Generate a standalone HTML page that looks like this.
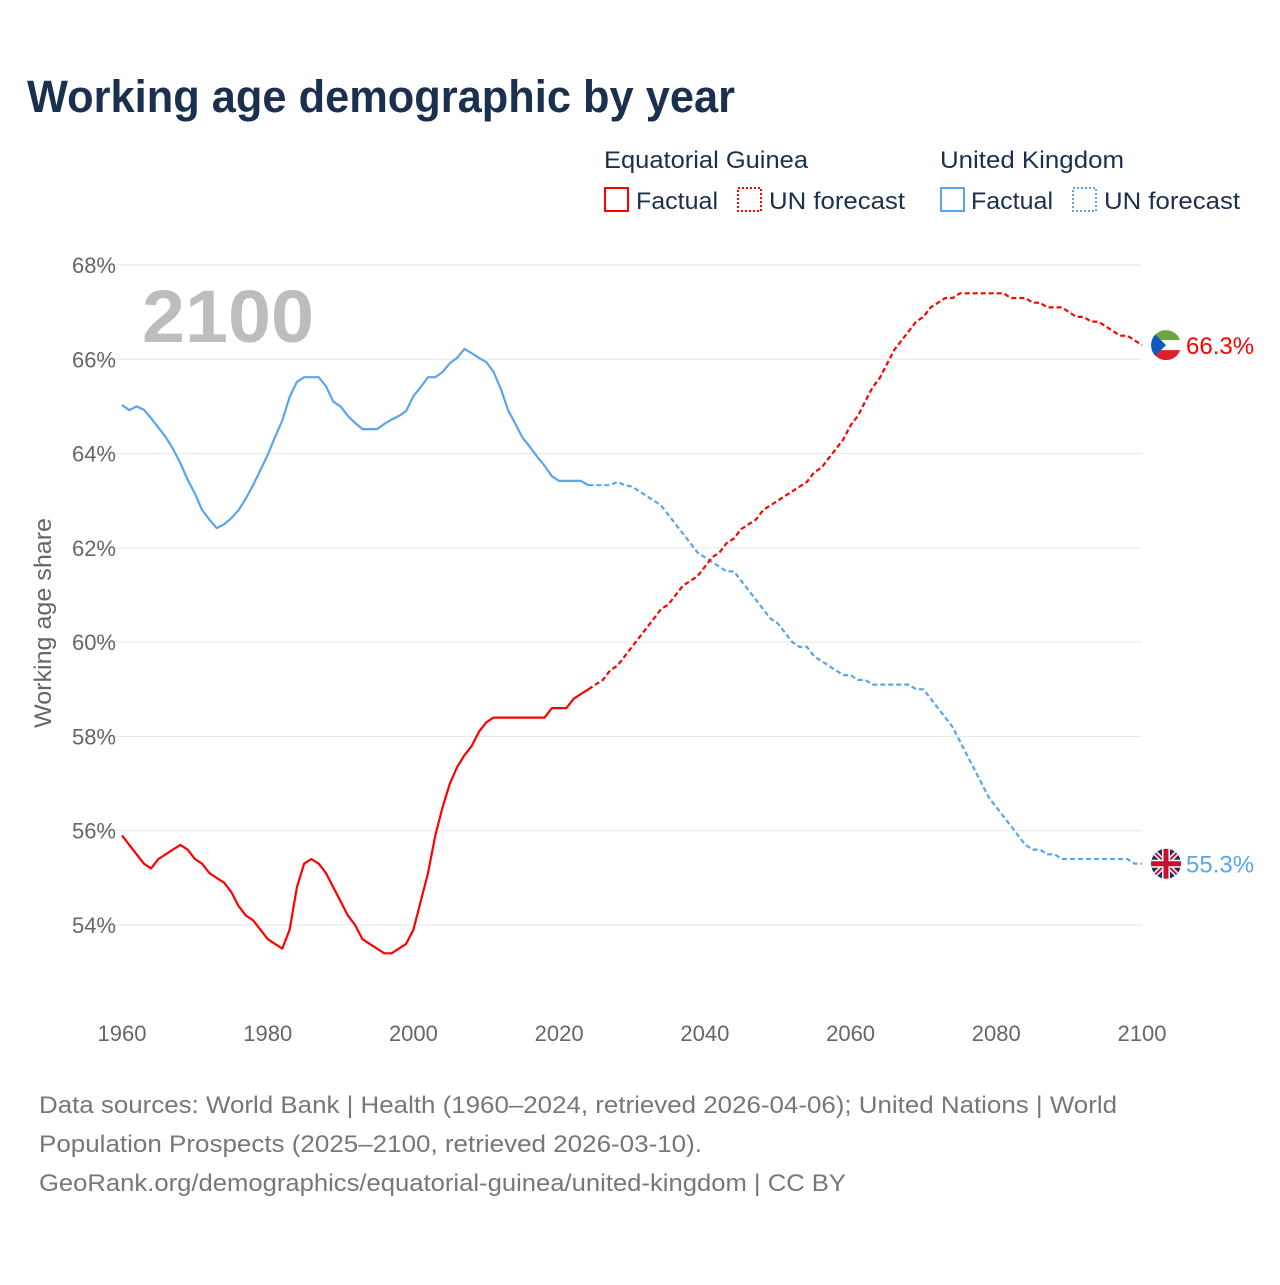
<!DOCTYPE html>
<html><head><meta charset="utf-8"><style>
body{margin:0;background:#fff;font-family:"Liberation Sans",sans-serif;}
svg text{font-family:"Liberation Sans",sans-serif;}
</style></head><body>
<svg id="chart" width="1280" height="1280" viewBox="0 0 1280 1280">
<rect width="1280" height="1280" fill="#fff"/>
<text x="27" y="112" font-size="45" font-weight="bold" fill="#1b2f4f" textLength="708" lengthAdjust="spacingAndGlyphs">Working age demographic by year</text>
<g>
<text x="604" y="168" font-size="24" fill="#1b2f4f" textLength="204" lengthAdjust="spacingAndGlyphs">Equatorial Guinea</text>
<text x="940" y="168" font-size="24" fill="#1b2f4f" textLength="184" lengthAdjust="spacingAndGlyphs">United Kingdom</text>
<g><rect x="605" y="188" width="23" height="23" fill="none" stroke="#f00" stroke-width="2"/><text x="636" y="209" font-size="24" fill="#1b2f4f" textLength="82" lengthAdjust="spacingAndGlyphs">Factual</text></g>
<g><rect x="738" y="188" width="23" height="23" fill="none" stroke="#f00" stroke-width="2" stroke-dasharray="2,2"/><text x="769" y="209" font-size="24" fill="#1b2f4f" textLength="136" lengthAdjust="spacingAndGlyphs">UN forecast</text></g>
<g><rect x="941" y="188" width="23" height="23" fill="none" stroke="#5aa5ec" stroke-width="2"/><text x="971" y="209" font-size="24" fill="#1b2f4f" textLength="82" lengthAdjust="spacingAndGlyphs">Factual</text></g>
<g><rect x="1073" y="188" width="23" height="23" fill="none" stroke="#5aa5ec" stroke-width="2" stroke-dasharray="2,2"/><text x="1104" y="209" font-size="24" fill="#1b2f4f" textLength="136" lengthAdjust="spacingAndGlyphs">UN forecast</text></g>
</g>
<g id="grid"></g>
<text x="142" y="342" font-size="74" font-weight="bold" fill="#bdbdbd" textLength="172" lengthAdjust="spacingAndGlyphs">2100</text>
<text transform="translate(51,623) rotate(-90)" text-anchor="middle" font-size="24" fill="#666" textLength="210" lengthAdjust="spacingAndGlyphs">Working age share</text>
<g id="series"></g>
<g font-size="24" fill="#777">
<text x="39" y="1113" textLength="1078" lengthAdjust="spacingAndGlyphs">Data sources: World Bank | Health (1960–2024, retrieved 2026-04-06); United Nations | World</text>
<text x="39" y="1152" textLength="663" lengthAdjust="spacingAndGlyphs">Population Prospects (2025–2100, retrieved 2026-03-10).</text>
<text x="39" y="1191" textLength="807" lengthAdjust="spacingAndGlyphs">GeoRank.org/demographics/equatorial-guinea/united-kingdom | CC BY</text>
</g>
</svg>
<script>
const yTicks=[54,56,58,60,62,64,66,68];
const xTicks=[1960,1980,2000,2020,2040,2060,2080,2100];
const egFactual=[55.9,55.7,55.5,55.3,55.2,55.4,55.5,55.6,55.7,55.6,55.4,55.3,55.1,55.0,54.9,54.7,54.4,54.2,54.1,53.9,53.7,53.6,53.5,53.9,54.8,55.3,55.4,55.3,55.1,54.8,54.5,54.2,54.0,53.7,53.6,53.5,53.4,53.4,53.5,53.6,53.9,54.5,55.1,55.9,56.5,57.0,57.35,57.6,57.8,58.1,58.3,58.4,58.4,58.4,58.4,58.4,58.4,58.4,58.4,58.6,58.6,58.6,58.8,58.9,59.0];
const egForecast=[59.1,59.2,59.4,59.5,59.7,59.9,60.1,60.3,60.5,60.7,60.8,61.0,61.2,61.3,61.4,61.6,61.8,61.9,62.1,62.2,62.4,62.5,62.6,62.8,62.9,63.0,63.1,63.2,63.3,63.4,63.6,63.7,63.9,64.1,64.3,64.6,64.8,65.1,65.4,65.6,65.9,66.2,66.4,66.6,66.8,66.9,67.1,67.2,67.3,67.3,67.4,67.4,67.4,67.4,67.4,67.4,67.4,67.3,67.3,67.3,67.2,67.2,67.1,67.1,67.1,67.0,66.9,66.9,66.8,66.8,66.7,66.6,66.5,66.5,66.4,66.3];
const ukFactual=[65.03,64.92,65.0,64.93,64.75,64.55,64.35,64.1,63.8,63.45,63.15,62.8,62.6,62.42,62.5,62.63,62.8,63.05,63.33,63.65,63.97,64.35,64.7,65.2,65.52,65.62,65.62,65.62,65.43,65.1,65.0,64.8,64.65,64.52,64.52,64.52,64.63,64.72,64.8,64.9,65.22,65.41,65.62,65.62,65.73,65.92,66.03,66.22,66.13,66.03,65.94,65.73,65.37,64.92,64.63,64.33,64.14,63.93,63.74,63.52,63.42,63.42,63.42,63.42,63.33];
const ukForecast=[63.33,63.33,63.33,63.4,63.33,63.3,63.2,63.1,63.0,62.9,62.7,62.5,62.3,62.1,61.9,61.8,61.7,61.6,61.5,61.5,61.3,61.1,60.9,60.7,60.5,60.4,60.2,60.0,59.9,59.9,59.7,59.6,59.5,59.4,59.3,59.3,59.2,59.2,59.1,59.1,59.1,59.1,59.1,59.1,59.0,59.0,58.8,58.6,58.4,58.2,57.9,57.6,57.3,57.0,56.7,56.5,56.3,56.1,55.9,55.7,55.6,55.6,55.5,55.5,55.4,55.4,55.4,55.4,55.4,55.4,55.4,55.4,55.4,55.4,55.3,55.3];
const NS="http://www.w3.org/2000/svg";
const X=y=>122+(y-1960)*(1020/140);
const Y=v=>265+(68-v)*(660/14);
const grid=document.getElementById('grid');
const series=document.getElementById('series');
function mk(tag,attrs,parent){const e=document.createElementNS(NS,tag);for(const k in attrs)e.setAttribute(k,attrs[k]);parent.appendChild(e);return e;}
yTicks.forEach(t=>{
  const l=mk('line',{x1:95,x2:1142,y1:Y(t),y2:Y(t),stroke:'#e6e6e6','stroke-width':1},grid);
  
  
  const tx=mk('text',{x:116,y:Y(t)+8,'text-anchor':'end','font-size':22,fill:'#666'},grid);
  tx.textContent=t+'%';
  
  
});
xTicks.forEach(t=>{
  const tx=mk('text',{x:X(t),y:1041,'text-anchor':'middle','font-size':22,fill:'#666'},grid);
  tx.textContent=t;
  
  
});
function line(vals,start,color,dash,name){
  const pts=vals.map((v,i)=>X(start+i).toFixed(1)+','+Y(v).toFixed(1)).join(' ');
  const p=mk('polyline',{points:pts,fill:'none',stroke:color,'stroke-width':2.2,'stroke-linejoin':'round'},series);
  if(dash)p.setAttribute('stroke-dasharray','5,3');
  
  
}
line(ukFactual,1960,'#5aa5ec',null,'uk-factual-line');
line([ukFactual[ukFactual.length-1]].concat(ukForecast),2024,'#5aa5ec',true,'uk-forecast-line');
line(egFactual,1960,'#f00',null,'eg-factual-line');
line([egFactual[egFactual.length-1]].concat(egForecast),2024,'#f00',true,'eg-forecast-line');
const egV=egForecast[egForecast.length-1], ukV=ukForecast[ukForecast.length-1];
const ey=Y(egV), uy=Y(ukV), fx=1166;
const eg=mk('g',{},series);


const cp1=mk('clipPath',{id:'c1'},eg);mk('circle',{cx:fx,cy:ey,r:15},cp1);
const egc=mk('g',{'clip-path':'url(#c1)'},eg);
mk('rect',{x:fx-15,y:ey-15,width:30,height:10,fill:'#6ba643'},egc);
mk('rect',{x:fx-15,y:ey-5,width:30,height:10,fill:'#fff'},egc);
mk('rect',{x:fx-15,y:ey+5,width:30,height:10,fill:'#e11d2a'},egc);
mk('polygon',{points:`${fx-15},${ey-15} ${fx},${ey} ${fx-15},${ey+15}`,fill:'#0d5bbd'},egc);
const egt=mk('text',{x:1186,y:ey+9,'font-size':24,fill:'#f00'},series);
egt.textContent=egV.toFixed(1)+'%';


const uk=mk('g',{},series);


const cp=mk('clipPath',{id:'c2'},uk);mk('circle',{cx:fx,cy:uy,r:15},cp);
const ukc=mk('g',{'clip-path':'url(#c2)'},uk);
mk('rect',{x:fx-15,y:uy-15,width:30,height:30,fill:'#1c2d6b'},ukc);
mk('line',{x1:fx-15,y1:uy-15,x2:fx+15,y2:uy+15,stroke:'#fff','stroke-width':5},ukc);
mk('line',{x1:fx+15,y1:uy-15,x2:fx-15,y2:uy+15,stroke:'#fff','stroke-width':5},ukc);
mk('line',{x1:fx-15,y1:uy-15,x2:fx+15,y2:uy+15,stroke:'#c8102e','stroke-width':2},ukc);
mk('line',{x1:fx+15,y1:uy-15,x2:fx-15,y2:uy+15,stroke:'#c8102e','stroke-width':2},ukc);
mk('rect',{x:fx-15,y:uy-4,width:30,height:8,fill:'#fff'},ukc);
mk('rect',{x:fx-4,y:uy-15,width:8,height:30,fill:'#fff'},ukc);
mk('rect',{x:fx-15,y:uy-2.5,width:30,height:5,fill:'#c8102e'},ukc);
mk('rect',{x:fx-2.5,y:uy-15,width:5,height:30,fill:'#c8102e'},ukc);
const ukt=mk('text',{x:1186,y:uy+9,'font-size':24,fill:'#5aa5ec'},series);
ukt.textContent=ukV.toFixed(1)+'%';


</script>
</body></html>
